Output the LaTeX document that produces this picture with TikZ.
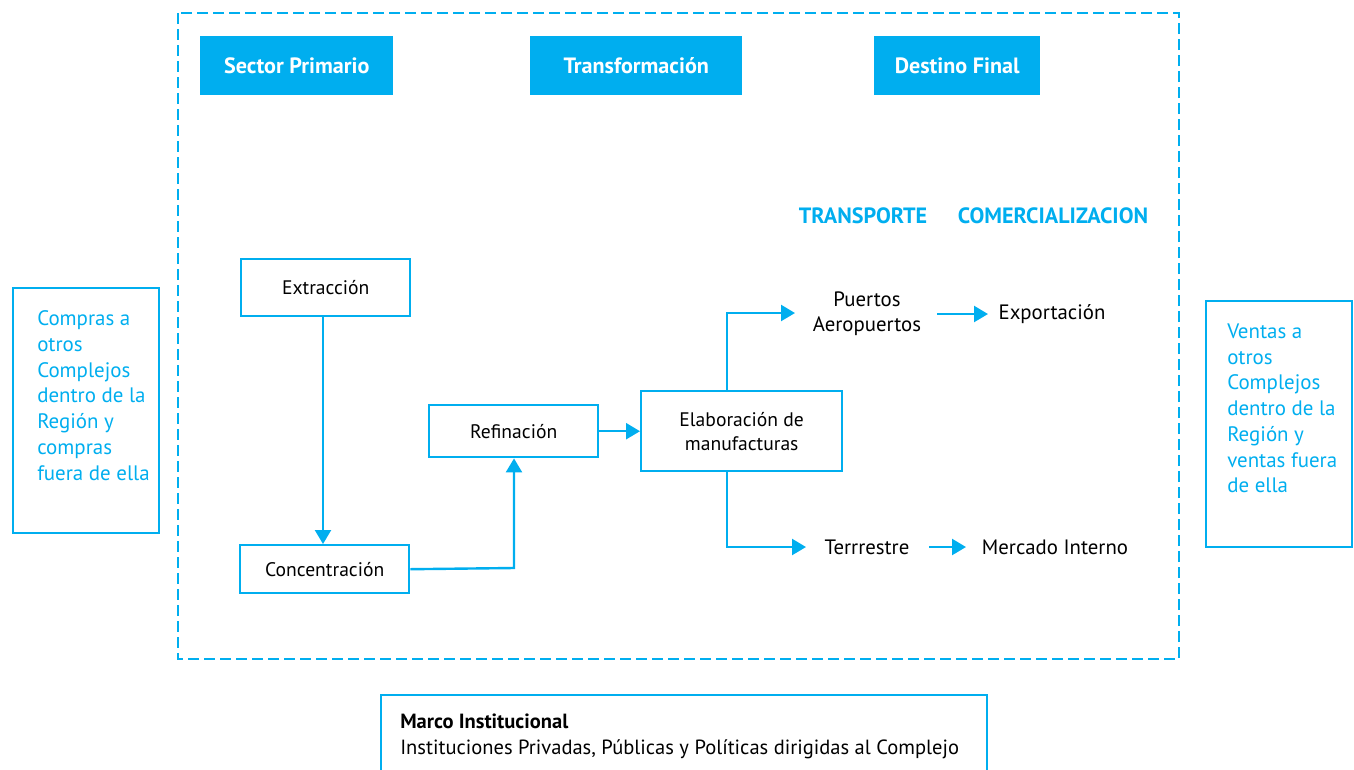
\documentclass[tikz,border=0pt]{standalone}
\usepackage{fontspec}
\setmainfont{PT Sans}
\usetikzlibrary{arrows.meta}
\definecolor{cy}{HTML}{00AEEF}
\begin{document}
\begin{tikzpicture}[x=0.75pt,y=-0.75pt,
  lw/.style={line width=1.8pt},
  hdr/.style={fill=cy,text=white,font=\bfseries\fontsize{16.6}{18}\selectfont,inner sep=0pt,anchor=north west},
  pbox/.style={draw=cy,lw,font=\fontsize{14.7}{18}\selectfont,align=center,inner sep=0pt,anchor=north west},
  lbl/.style={font=\fontsize{15.6}{18.7}\selectfont,align=center,inner sep=0pt},
  conn/.style={draw=cy,lw,-{Triangle[length=10.5pt,width=12pt]}},
  side/.style={draw=cy,lw,inner sep=0pt,anchor=north west},
  sidetxt/.style={text=cy,font=\fontsize{15.7}{19.3}\selectfont,align=left,inner sep=0pt,anchor=north west},
  captxt/.style={text=cy,font=\bfseries\fontsize{16.6}{18}\selectfont,inner sep=0pt}]
\useasboundingbox (0,0) rectangle (1354,769);
% dashed frame
\draw[cy,lw,dash pattern=on 8.25pt off 3.75pt] (178,13) rectangle (1179,659);
% headers
\node[hdr,minimum width=193*0.75pt,minimum height=59*0.75pt] (h1) at (200,36) {Sector Primario};
\node[hdr,minimum width=212*0.75pt,minimum height=59*0.75pt] (h2) at (530,36) {Transformación};
\node[hdr,minimum width=166*0.75pt,minimum height=59*0.75pt] (h3) at (874,36) {Destino Final};
% captions
\node[captxt] (tr) at (863,216) {TRANSPORTE};
\node[captxt] (co) at (1053,216) {COMERCIALIZACION};
% process boxes
\node[pbox,minimum width=169*0.75pt,minimum height=57*0.75pt] (ext) at (240,258) {Extracción};
\node[pbox,minimum width=169*0.75pt,minimum height=48*0.75pt] (con) at (239,544) {Concentración};
\node[pbox,minimum width=169*0.75pt,minimum height=52*0.75pt] (ref) at (428,404) {Refinación};
\node[pbox,minimum width=201*0.75pt,minimum height=80*0.75pt] (ela) at (640,390) {Elaboración de\\manufacturas};
% labels
\node[lbl] (pue) at (867,314) {Puertos\\Aeropuertos};
\node[lbl] (exp) at (1052,314) {Exportación};
\node[lbl] (ter) at (867,547) {Terrrestre};
\node[lbl] (mer) at (1055,547) {Mercado Interno};
% connectors
\draw[conn] (ext.south -| 323,0) -- (con.north -| 323,0);
\draw[conn] (con.east) -- (514,568) -- (ref.south -| 514,0);
\draw[conn] (ref.east) -- (ela.west |- ref.east);
\draw[conn] (ela.north -| 727,0) -- (727,313) -- (795,313);
\draw[conn] (ela.south -| 727,0) -- (727,547) -- (806,547);
\coordinate (a1) at (937,314);
\coordinate (a2) at (988,314);
\draw[conn] (a1) -- (a2);
\coordinate (b1) at (929,547);
\coordinate (b2) at (966,547);
\draw[conn] (b1) -- (b2);
% side boxes
\node[side,minimum width=146*0.75pt,minimum height=245*0.75pt] (lb) at (12,287) {};
\node[sidetxt] (lt) at (37,310.5) {Compras a\\otros\\Complejos\\dentro de la\\Región y\\compras\\fuera de ella};
\node[side,minimum width=146*0.75pt,minimum height=246*0.75pt] (rb) at (1205,300) {};
\node[sidetxt] (rt) at (1227,323.5) {Ventas a\\otros\\Complejos\\dentro de la\\Región y\\ventas fuera\\de ella};
% bottom box (open at the page edge)
\draw[cy,lw] (381,772) -- (381,695) -- (987,695) -- (987,772);
\node[inner sep=0pt,anchor=north west,align=left,font=\fontsize{15.4}{19.5}\selectfont] (mi) at (400,714) {\textbf{Marco Institucional}\\Instituciones Privadas, Públicas y Políticas dirigidas al Complejo};
\end{tikzpicture}
\end{document}
